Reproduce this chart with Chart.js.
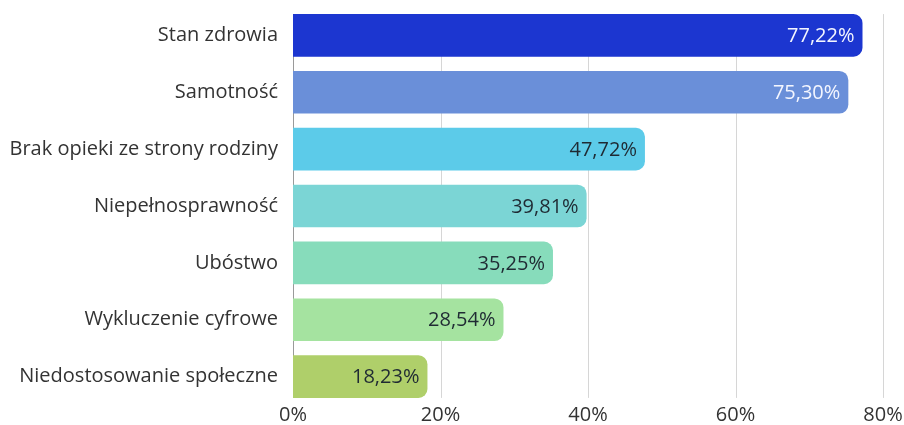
<!DOCTYPE html>
<html>
<head>
<meta charset="utf-8">
<script src="https://cdn.jsdelivr.net/npm/chart.js@4"></script>
<style>
  html, body { margin: 0; padding: 0; background: #fff; }
  #wrap { width: 904px; height: 425px; }
</style>
</head>
<body>
<div id="wrap"><canvas id="barChart"></canvas></div>
<script>
// chart data
const categories = [
  "Stan zdrowia",
  "Samotność",
  "Brak opieki ze strony rodziny",
  "Niepełnosprawność",
  "Ubóstwo",
  "Wykluczenie cyfrowe",
  "Niedostosowanie społeczne"
];
const values = [77.22, 75.30, 47.72, 39.81, 35.25, 28.54, 18.23];
const barColors = ["#1c36d0", "#6a8fd9", "#5ccbe9", "#7bd5d5", "#87dcbb", "#a5e3a0", "#afcf6a"];
const labelColors = ["#f4f6ff", "#f4f6ff", "#1f2a33", "#1f2a33", "#1f2a33", "#1f2a33", "#1f2a33"];
const xTicks = [0, 20, 40, 60, 80];

const FONT = "'Open Sans', sans-serif";
const FONT_SIZE = 20;

// grid lines only span the bars, like the original
const gridPlugin = {
  id: "shortGrid",
  beforeDatasetsDraw(chart) {
    const meta = chart.getDatasetMeta(0);
    const first = meta.data[0], last = meta.data[meta.data.length - 1];
    const top = first.y - first.height / 2;
    const bottom = last.y + last.height / 2;
    const x = chart.scales.x;
    const ctx = chart.ctx;
    ctx.save();
    ctx.lineWidth = 1;
    xTicks.forEach(t => {
      const px = Math.round(x.getPixelForValue(t)) + 0.5;
      ctx.strokeStyle = t === 0 ? "#9a9a9a" : "#d6d6d6";
      ctx.beginPath();
      ctx.moveTo(px, top);
      ctx.lineTo(px, bottom);
      ctx.stroke();
    });
    ctx.restore();
  }
};

// value labels inside the end of each bar
const valuePlugin = {
  id: "valueLabels",
  afterDatasetsDraw(chart) {
    const meta = chart.getDatasetMeta(0);
    const ctx = chart.ctx;
    ctx.save();
    ctx.font = FONT_SIZE + "px " + FONT;
    ctx.textAlign = "right";
    ctx.textBaseline = "middle";
    meta.data.forEach((bar, i) => {
      ctx.fillStyle = labelColors[i];
      ctx.fillText(values[i].toFixed(2).replace(".", ",") + "%", bar.x - 8, bar.y + 1);
    });
    ctx.restore();
  }
};

const ctx = document.getElementById("barChart").getContext("2d");
new Chart(ctx, {
  type: "bar",
  data: {
    labels: categories,
    datasets: [{
      data: values,
      backgroundColor: barColors,
      borderRadius: 9,
      barPercentage: 0.75,
      categoryPercentage: 1
    }]
  },
  options: {
    indexAxis: "y",
    responsive: true,
    maintainAspectRatio: false,
    animation: false,
    layout: { padding: { top: 7, right: 21, bottom: 0, left: 0 } },
    plugins: {
      legend: { display: false },
      tooltip: { enabled: false }
    },
    scales: {
      x: {
        min: 0,
        max: 80,
        grid: { display: false, drawTicks: false },
        border: { display: false },
        ticks: {
          stepSize: 20,
          padding: 0,
          color: "#333",
          font: { family: FONT, size: FONT_SIZE, lineHeight: 1 },
          callback: v => v + "%"
        }
      },
      y: {
        grid: { display: false, drawTicks: false },
        border: { display: false },
        afterFit: scale => {
          scale.width = 293;
          scale.paddingTop = 0;
          scale.paddingBottom = 0;
        },
        ticks: {
          padding: 15,
          color: "#333",
          font: { family: FONT, size: FONT_SIZE }
        }
      }
    }
  },
  plugins: [gridPlugin, valuePlugin]
});
</script>
</body>
</html>
